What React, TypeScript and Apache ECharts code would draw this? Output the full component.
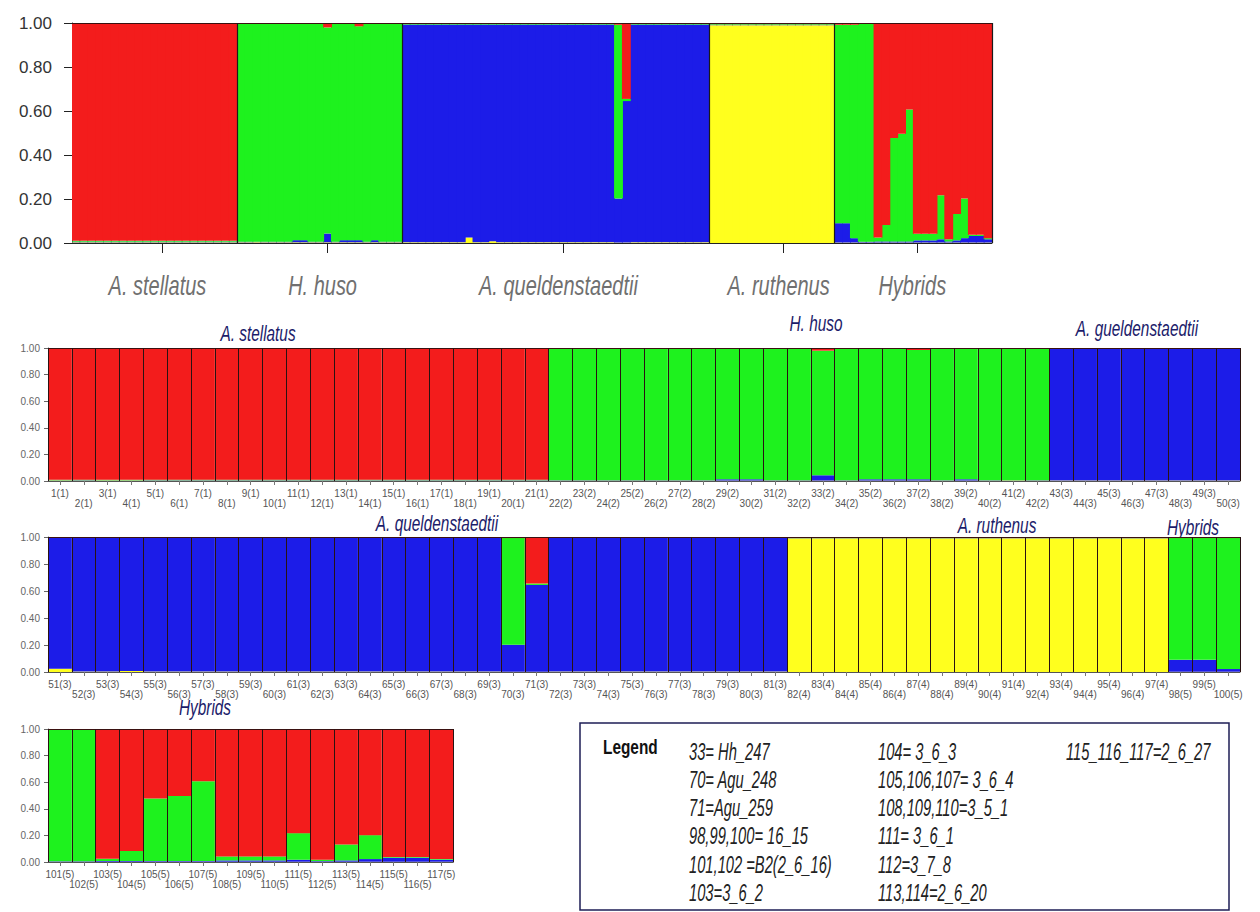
import React, { useEffect, useRef } from "react";
import * as echarts from "echarts";

// ---------------- DATA ----------------
const populationNames = ["A. stellatus", "H. huso", "A. queldenstaedtii", "A. ruthenus", "Hybrids"];
const populationSizes = [21, 21, 39, 16, 20];
// individual index (0-based) under which each population name is written in the overview panel
const groupLabelIndex = [11, 32, 62, 90, 107];

// Membership coefficients (Q) per individual 1..117
const redQ = [
  // 1-21 A. stellatus
  0.990, 0.990, 0.990, 0.990, 0.990, 0.990, 0.990, 0.990, 0.990, 0.990, 0.990,
  0.990, 0.990, 0.990, 0.990, 0.990, 0.990, 0.990, 0.990, 0.990, 0.990,
  // 22-42 H. huso
  0.004, 0.004, 0.004, 0.004, 0.004, 0.004, 0.004, 0.004, 0.004, 0.004, 0.004,
  0.020, 0.004, 0.004, 0.004, 0.015, 0.004, 0.004, 0.004, 0.004, 0.004,
  // 43-81 A. gueldenstaedtii
  0.004, 0.004, 0.004, 0.004, 0.004, 0.004, 0.004, 0.004, 0.004, 0.004,
  0.004, 0.004, 0.004, 0.004, 0.004, 0.004, 0.004, 0.004, 0.004, 0.004,
  0.004, 0.004, 0.004, 0.004, 0.004, 0.004, 0.004, 0.008, 0.345, 0.004,
  0.004, 0.004, 0.004, 0.004, 0.004, 0.004, 0.004, 0.004, 0.004,
  // 82-97 A. ruthenus
  0.005, 0.005, 0.005, 0.005, 0.005, 0.005, 0.005, 0.005,
  0.005, 0.005, 0.005, 0.005, 0.005, 0.005, 0.005, 0.005,
  // 98-117 Hybrids
  0.008, 0.008, 0.008, 0.004, 0.004, 0.975, 0.918, 0.523, 0.503, 0.393,
  0.958, 0.958, 0.958, 0.783, 0.983, 0.868, 0.798, 0.963, 0.963, 0.978,
];
const greenQ = [
  0.004, 0.004, 0.004, 0.004, 0.004, 0.004, 0.004, 0.004, 0.004, 0.004, 0.004,
  0.004, 0.004, 0.004, 0.004, 0.004, 0.004, 0.004, 0.004, 0.004, 0.004,
  0.990, 0.990, 0.990, 0.990, 0.990, 0.990, 0.990, 0.983, 0.983, 0.990, 0.990,
  0.937, 0.990, 0.983, 0.983, 0.972, 0.990, 0.983, 0.990, 0.990, 0.990,
  0.003, 0.003, 0.003, 0.003, 0.003, 0.003, 0.003, 0.003, 0.003, 0.003,
  0.003, 0.003, 0.003, 0.003, 0.003, 0.003, 0.003, 0.003, 0.003, 0.003,
  0.003, 0.003, 0.003, 0.003, 0.003, 0.003, 0.003, 0.790, 0.010, 0.003,
  0.003, 0.003, 0.003, 0.003, 0.003, 0.003, 0.003, 0.003, 0.003,
  0.003, 0.003, 0.003, 0.003, 0.003, 0.003, 0.003, 0.003,
  0.003, 0.003, 0.003, 0.003, 0.003, 0.003, 0.003, 0.003,
  0.902, 0.902, 0.970, 0.990, 0.990, 0.018, 0.075, 0.470, 0.490, 0.600,
  0.030, 0.030, 0.030, 0.200, 0.010, 0.120, 0.180, 0.005, 0.005, 0.005,
];
const blueQ = [
  0.003, 0.003, 0.003, 0.003, 0.003, 0.003, 0.003, 0.003, 0.003, 0.003, 0.003,
  0.003, 0.003, 0.003, 0.003, 0.003, 0.003, 0.003, 0.003, 0.003, 0.003,
  0.003, 0.003, 0.003, 0.003, 0.003, 0.003, 0.003, 0.010, 0.010, 0.003, 0.003,
  0.040, 0.003, 0.010, 0.010, 0.010, 0.003, 0.010, 0.003, 0.003, 0.003,
  0.990, 0.990, 0.990, 0.990, 0.990, 0.990, 0.990, 0.990, 0.968, 0.990,
  0.990, 0.985, 0.990, 0.990, 0.990, 0.990, 0.990, 0.990, 0.990, 0.990,
  0.990, 0.990, 0.990, 0.990, 0.990, 0.990, 0.990, 0.200, 0.643, 0.990,
  0.990, 0.990, 0.990, 0.990, 0.990, 0.990, 0.990, 0.990, 0.990,
  0.002, 0.002, 0.002, 0.002, 0.002, 0.002, 0.002, 0.002,
  0.002, 0.002, 0.002, 0.002, 0.002, 0.002, 0.002, 0.002,
  0.088, 0.088, 0.020, 0.004, 0.004, 0.005, 0.005, 0.005, 0.005, 0.005,
  0.010, 0.010, 0.010, 0.015, 0.005, 0.010, 0.020, 0.030, 0.030, 0.015,
];
const yellowQ = [
  0.003, 0.003, 0.003, 0.003, 0.003, 0.003, 0.003, 0.003, 0.003, 0.003, 0.003,
  0.003, 0.003, 0.003, 0.003, 0.003, 0.003, 0.003, 0.003, 0.003, 0.003,
  0.003, 0.003, 0.003, 0.003, 0.003, 0.003, 0.003, 0.003, 0.003, 0.003, 0.003,
  0.003, 0.003, 0.003, 0.003, 0.003, 0.003, 0.003, 0.003, 0.003, 0.003,
  0.003, 0.003, 0.003, 0.003, 0.003, 0.003, 0.003, 0.003, 0.025, 0.003,
  0.003, 0.008, 0.003, 0.003, 0.003, 0.003, 0.003, 0.003, 0.003, 0.003,
  0.003, 0.003, 0.003, 0.003, 0.003, 0.003, 0.003, 0.002, 0.002, 0.003,
  0.003, 0.003, 0.003, 0.003, 0.003, 0.003, 0.003, 0.003, 0.003,
  0.990, 0.990, 0.990, 0.990, 0.990, 0.990, 0.990, 0.990,
  0.990, 0.990, 0.990, 0.990, 0.990, 0.990, 0.990, 0.990,
  0.002, 0.002, 0.002, 0.002, 0.002, 0.002, 0.002, 0.002, 0.002, 0.002,
  0.002, 0.002, 0.002, 0.002, 0.002, 0.002, 0.002, 0.002, 0.002, 0.002,
];

// detail panels: individuals [start, end)
const panelRanges = [
  [0, 50],
  [50, 100],
  [100, 117],
];
const panelTitles = [
  ["A. stellatus", "H. huso", "A. gueldenstaedtii"],
  ["A. queldenstaedtii", "A. ruthenus", "Hybrids"],
  ["Hybrids"],
];

const legendCol1 = ["33= Hh_247", "70= Agu_248", "71=Agu_259", "98,99,100= 16_15", "101,102 =B2(2_6_16)", "103=3_6_2"];
const legendCol2 = ["104= 3_6_3", "105,106,107= 3_6_4", "108,109,110=3_5_1", "111= 3_6_1", "112=3_7_8", "113,114=2_6_20"];
const legendCol3 = ["115_116_117=2_6_27"];

// ---------------- LAYOUT / STYLE ----------------
const COLORS = { red: "#f31c1c", green: "#1ef21e", blue: "#1c1ce8", yellow: "#ffff1e" };
const titlePos = [
  [[258, 333], [816, 323], [1137, 328]],
  [[437, 523], [997, 525], [1193, 527]],
  [[205, 707]],
];
const baseFont = "'Liberation Sans', Arial, sans-serif";
const TOP_W = 920;

function buildOption() {
  const n = redQ.length;
  const popOf: number[] = [];
  populationSizes.forEach((s, p) => {
    for (let k = 0; k < s; k++) popOf.push(p + 1);
  });
  const ids = Array.from({ length: n }, (_, i) => String(i + 1));
  const labels = ids.map((id, i) => `${id}(${popOf[i]})`);
  const boundaries: number[] = [];
  let acc = 0;
  populationSizes.forEach((s) => {
    acc += s;
    boundaries.push(acc);
  });

  const clusters = [
    { values: yellowQ, color: COLORS.yellow },
    { values: blueQ, color: COLORS.blue },
    { values: greenQ, color: COLORS.green },
    { values: redQ, color: COLORS.red },
  ];

  const bandW = 1192 / 50;
  const grids: any[] = [
    { left: 72, top: 23, width: TOP_W, height: 220 },
    { left: 48, top: 348, width: 1192, height: 133 },
    { left: 48, top: 537, width: 1192, height: 135 },
    { left: 48, top: 729, width: bandW * 17, height: 133 },
  ];

  const xAxes: any[] = [
    {
      type: "category",
      gridIndex: 0,
      data: ids,
      z: 10,
      axisLine: { lineStyle: { color: "#222", width: 1 } },
      axisTick: {
        show: true,
        alignWithLabel: true,
        length: 10,
        interval: (i: number) => groupLabelIndex.includes(i),
        lineStyle: { color: "#222" },
      },
      axisLabel: { show: false },
      splitLine: {
        show: true,
        interval: (i: number) => boundaries.includes(i),
        lineStyle: { color: "#1a1a1a", width: 1.2 },
      },
    },
  ];
  const yAxes: any[] = [
    {
      type: "value",
      gridIndex: 0,
      min: 0,
      max: 1,
      interval: 0.2,
      axisLine: { show: true, lineStyle: { color: "#222" } },
      axisTick: { show: true, length: 8, lineStyle: { color: "#222" } },
      splitLine: { show: false },
      axisLabel: {
        formatter: (v: number) => v.toFixed(2),
        fontSize: 17,
        color: "#333",
        fontFamily: baseFont,
        margin: 20,
      },
    },
  ];

  panelRanges.forEach(([s, e], k) => {
    const g = k + 1;
    xAxes.push({
      type: "category",
      gridIndex: g,
      data: labels.slice(s, e),
      z: 10,
      axisLine: { lineStyle: { color: "#555" } },
      axisTick: { show: true, alignWithLabel: true, interval: 0, length: 4, lineStyle: { color: "#777" } },
      axisLabel: {
        interval: 0,
        fontSize: 10,
        lineHeight: 10,
        margin: 7,
        color: "#555",
        fontFamily: baseFont,
        formatter: (v: string, i: number) => (i % 2 === 0 ? v : "\n" + v),
      },
      splitLine: { show: true, interval: 0, lineStyle: { color: "#2a1212", width: 1 } },
    });
    yAxes.push({
      type: "value",
      gridIndex: g,
      min: 0,
      max: 1,
      interval: 0.2,
      axisLine: { show: true, lineStyle: { color: "#555" } },
      axisTick: { show: true, length: 4, lineStyle: { color: "#666" } },
      splitLine: { show: false },
      axisLabel: {
        formatter: (v: number) => v.toFixed(2),
        fontSize: 10,
        color: "#666",
        fontFamily: baseFont,
        margin: 8,
      },
    });
  });

  const ranges = [[0, n], ...panelRanges];
  const series: any[] = [];
  ranges.forEach(([s, e], g) => {
    clusters.forEach((c, ci) => {
      const s0: any = {
        type: "bar",
        xAxisIndex: g,
        yAxisIndex: g,
        stack: "q" + g,
        data: c.values.slice(s, e),
        barCategoryGap: "0%",
        barGap: "0%",
        silent: true,
        itemStyle: { color: c.color },
        markLine:
          ci === clusters.length - 1
            ? {
                silent: true,
                symbol: "none",
                label: { show: false },
                lineStyle: { color: "#3a1010", width: 1.2, type: "solid" },
                data: [{ yAxis: 1 }],
              }
            : undefined,
      };
      // slightly overlapping bars in the overview so no seams show between individuals
      if (g === 0) s0.barWidth = TOP_W / n + 1;
      series.push(s0);
    });
  });

  const graphics: any[] = [];
  panelTitles.forEach((row, r) =>
    row.forEach((t, j) => {
      graphics.push({
        type: "text",
        x: titlePos[r][j][0],
        y: titlePos[r][j][1],
        scaleX: 0.7,
        style: {
          text: t,
          fontSize: 22,
          fontStyle: "italic",
          fontFamily: baseFont,
          fill: "#1c1c6a",
          textAlign: "center",
          textVerticalAlign: "middle",
        },
      });
    })
  );

  // legend box
  graphics.push({
    type: "rect",
    shape: { x: 580, y: 723, width: 649, height: 187 },
    style: { fill: "none", stroke: "#1e1e55", lineWidth: 1.5 },
  });
  graphics.push({
    type: "text",
    x: 603,
    y: 747,
    scaleX: 0.77,
    style: {
      text: "Legend",
      fontSize: 20,
      fontWeight: "bold",
      fontFamily: baseFont,
      fill: "#111",
      textAlign: "left",
      textVerticalAlign: "middle",
    },
  });
  const cols = [legendCol1, legendCol2, legendCol3];
  const colX = [689, 878, 1066];
  cols.forEach((col, c) =>
    col.forEach((t, r) => {
      graphics.push({
        type: "text",
        x: colX[c],
        y: 752 + r * 28.2,
        scaleX: 0.64,
        style: {
          text: t,
          fontSize: 23,
          fontStyle: "italic",
          fontFamily: baseFont,
          fill: "#222",
          textAlign: "left",
          textVerticalAlign: "middle",
        },
      });
    })
  );

  return {
    animation: false,
    backgroundColor: "#ffffff",
    grid: grids,
    xAxis: xAxes,
    yAxis: yAxes,
    series,
    graphic: graphics,
  };
}

export default function App() {
  const ref = useRef<HTMLDivElement>(null);
  useEffect(() => {
    if (!ref.current) return;
    const chart = echarts.init(ref.current, null, { renderer: "svg" });
    const option: any = buildOption();
    chart.setOption(option);
    // population names under the overview panel, placed through the axis scale
    const groupLabels = groupLabelIndex.map((idx, k) => {
      const p = chart.convertToPixel({ gridIndex: 0 }, [idx, 0]) as number[];
      return {
        type: "text",
        x: p[0] - 5,
        y: p[1] + 42,
        scaleX: 0.74,
        style: {
          text: populationNames[k],
          fontSize: 27,
          fontStyle: "italic",
          fontFamily: baseFont,
          fill: "#707070",
          textAlign: "center",
          textVerticalAlign: "middle",
        },
      };
    });
    chart.setOption({ graphic: [...option.graphic, ...groupLabels] });
    return () => chart.dispose();
  }, []);
  return (
    <div
      ref={ref}
      style={{ position: "absolute", left: 0, top: 0, width: 1260, height: 912, background: "#fff" }}
    />
  );
}
